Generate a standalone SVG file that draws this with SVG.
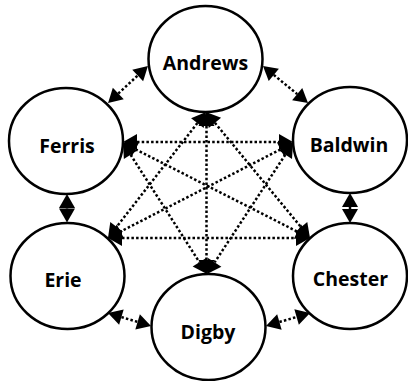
<svg xmlns="http://www.w3.org/2000/svg" width="408" height="381" viewBox="0 0 408 381">
<style>
.node ellipse{fill:#fff;stroke:#000;stroke-width:2.5}
.node text{font-family:"Open Sans","Noto Sans","Liberation Sans",sans-serif;font-weight:bold;font-size:19.5px;text-anchor:middle;fill:#000}
.edges path{fill:none;stroke:#000;stroke-width:2.5;stroke-dasharray:2.5 2.2;marker-start:url(#ah);marker-end:url(#ah)}
</style>
<defs>
<marker id="ah" markerUnits="userSpaceOnUse" markerWidth="16" markerHeight="16" refX="0" refY="8" orient="auto-start-reverse" viewBox="0 0 16 16" overflow="visible">
<path d="M0,0 L14,8 L0,16 z" fill="#000" stroke="none"/>
</marker>
</defs>
<rect width="408" height="381" fill="#fff"/>
<g class="edges">
<path d="M118.3,93.5 L137.7,75.5"/>
<path d="M273.8,74.9 L297.2,94.1"/>
<path d="M350,207 L350,209"/>
<path d="M279.4,322 L296.6,317"/>
<path d="M121.4,317.1 L137.6,321.9"/>
<path d="M67,208 L67,208.5"/>
<path d="M137,142 L279,142"/>
<path d="M122,238 L296,238"/>
<path d="M206.5,126 L206.5,260"/>
<path d="M135.5,149.3 L297.5,231.7"/>
<path d="M280.5,149.4 L120.5,231.6"/>
<path d="M197.4,123.1 L116.6,226.9"/>
<path d="M214.9,122.8 L301.1,227.2"/>
<path d="M130.6,154.8 L199.4,262.2"/>
<path d="M285.3,154.7 L214.7,262.3"/>
</g>
<g id="andrews" class="node"><ellipse cx="205.5" cy="59" rx="57" ry="53"/><text x="205.5" y="70">Andrews</text></g>
<g id="baldwin" class="node"><ellipse cx="350" cy="140" rx="57" ry="53"/><text x="349" y="152">Baldwin</text></g>
<g id="chester" class="node"><ellipse cx="350" cy="276" rx="57" ry="53"/><text x="350.5" y="286">Chester</text></g>
<g id="digby" class="node"><ellipse cx="208.5" cy="327" rx="57" ry="53"/><text x="208" y="339">Digby</text></g>
<g id="erie" class="node"><ellipse cx="67.5" cy="276" rx="57" ry="53"/><text x="63" y="287">Erie</text></g>
<g id="ferris" class="node"><ellipse cx="66" cy="141" rx="57" ry="53"/><text x="67" y="152.5">Ferris</text></g>
</svg>
